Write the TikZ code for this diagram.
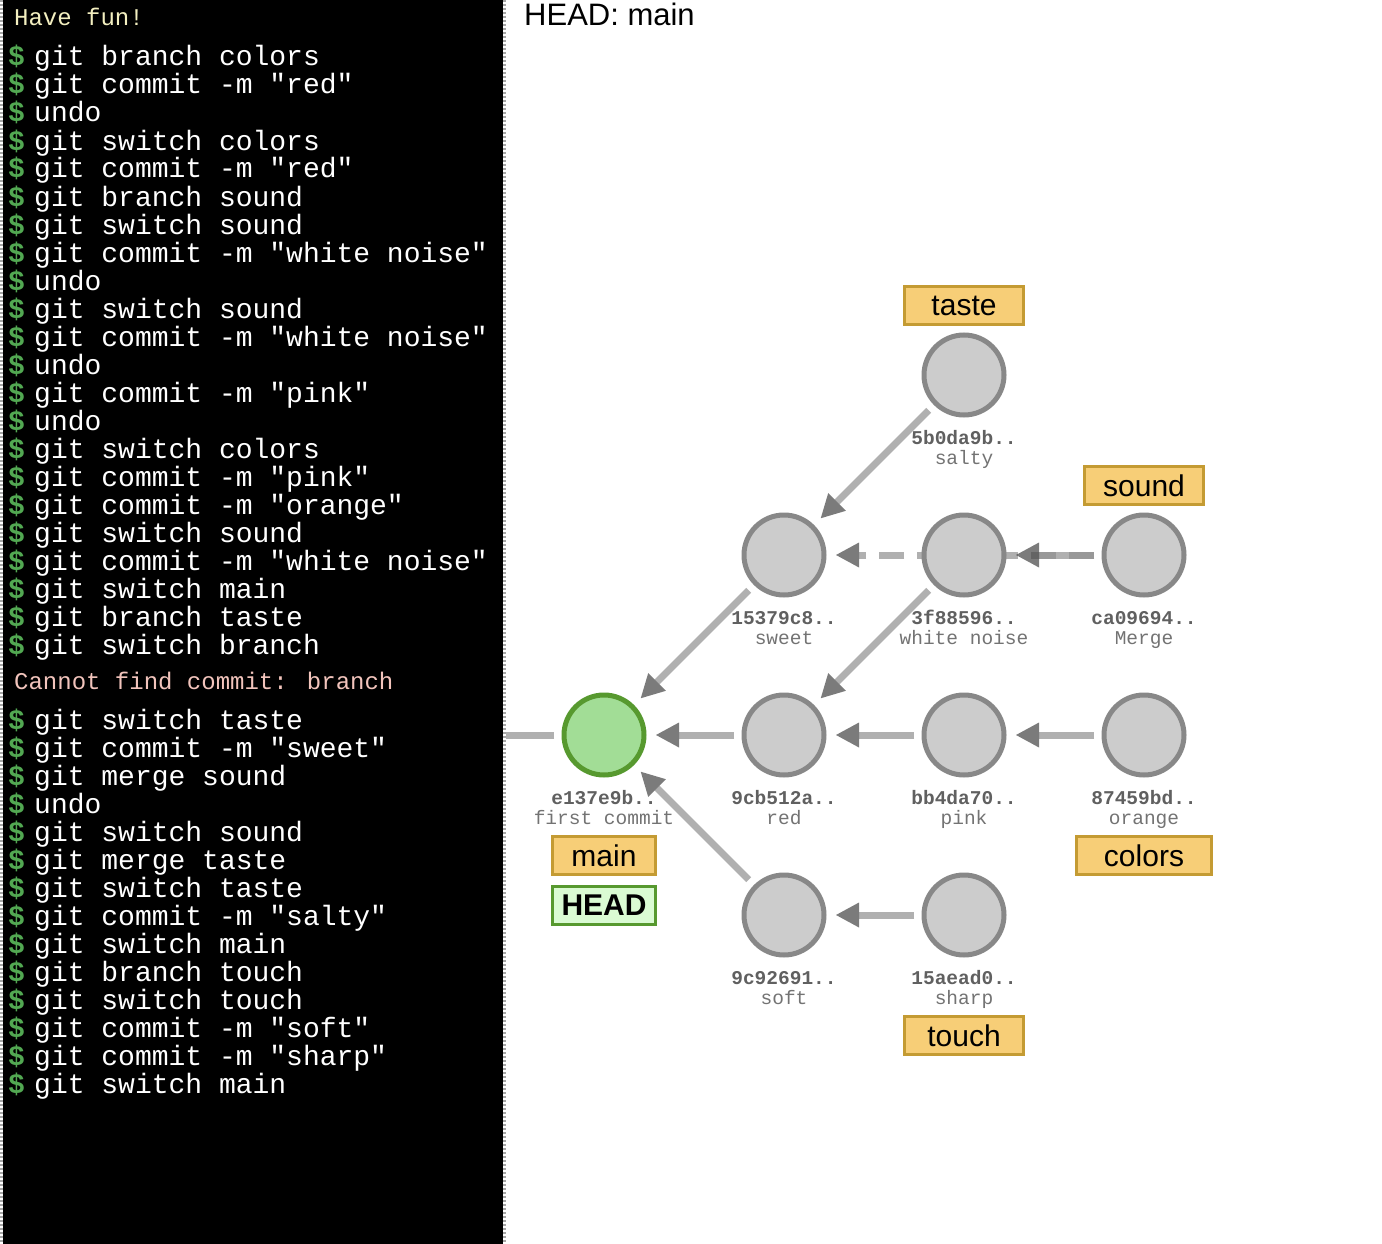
\documentclass[tikz,border=0pt]{standalone}
\usepackage{fontspec}
\setmainfont{Liberation Sans}
\newfontfamily\termfont{Liberation Mono}
\usetikzlibrary{arrows.meta,backgrounds}

\definecolor{commitfill}{HTML}{CCCCCC}
\definecolor{commitline}{HTML}{888888}
\definecolor{firstfill}{HTML}{A2DD96}
\definecolor{firstline}{HTML}{57992F}
\definecolor{tagfill}{HTML}{F7CE77}
\definecolor{tagline}{HTML}{C49B33}
\definecolor{headfill}{HTML}{DAFBD3}
\definecolor{edgegray}{HTML}{8F8F8F}
\definecolor{tipgray}{HTML}{444444}
\definecolor{hashgray}{HTML}{606060}
\definecolor{msggray}{HTML}{737373}
\definecolor{promptgreen}{HTML}{52A852}
\definecolor{funyellow}{HTML}{F3EFC0}
\definecolor{errpink}{HTML}{F2C4BC}

\tikzset{
  commit/.style={circle, draw=commitline, fill=commitfill, line width=5pt, minimum size=80pt, inner sep=0pt},
  firstcommit/.style={commit, draw=firstline, fill=firstfill},
  hash/.style={anchor=base, inner sep=0pt, text=hashgray, font=\termfont\bfseries\fontsize{19.5}{20}\selectfont},
  msg/.style={anchor=base, inner sep=0pt, text=msggray, font=\termfont\fontsize{19.5}{20}\selectfont},
  tag/.style={draw=tagline, fill=tagfill, line width=3pt, minimum width=119pt, minimum height=38pt, inner sep=0pt, font=\fontsize{30}{30}\selectfont},
  headtag/.style={tag, draw=firstline, fill=headfill, font=\bfseries\fontsize{30}{30}\selectfont},
  parent/.style={draw=edgegray, line width=7pt, opacity=0.7, shorten <=7.5pt, shorten >=9.5pt,
    -{Triangle[length=23pt, width=25pt, line width=0pt, color=tipgray]}},
  mergeparent/.style={parent, dash pattern=on 25pt off 13pt},
  rootline/.style={draw=edgegray, line width=7pt, opacity=0.7, shorten <=7.5pt},
  termline/.style={anchor=base west, inner sep=0pt, text=white, font=\termfont\fontsize{28}{28}\selectfont},
  prompt/.style={anchor=base west, inner sep=0pt, text=promptgreen, font=\termfont\bfseries\fontsize{28}{28}\selectfont},
  termnote/.style={anchor=base west, inner sep=0pt, font=\termfont\fontsize{24}{24}\selectfont}
}

\begin{document}
\begin{tikzpicture}[x=1pt, y=-1pt]
\useasboundingbox (0,0) rectangle (1382,1244);

% commits
\draw (604,735) node[firstcommit](first){};
\foreach \name/\x/\y in {red/784/735, pink/964/735, orange/1144/735,
    sweet/784/555, whitenoise/964/555, merge/1144/555,
    salty/964/375, soft/784/915, sharp/964/915}
  \draw (\x,\y) node[commit](\name){};

% hashes and messages
\foreach \name/\x/\y/\hash/\msg in {first/604/735/e137e9b../first commit,
    red/784/735/9cb512a../red, pink/964/735/bb4da70../pink,
    orange/1144/735/87459bd../orange, sweet/784/555/15379c8../sweet,
    whitenoise/964/555/3f88596../white noise, merge/1144/555/ca09694../Merge,
    salty/964/375/5b0da9b../salty, soft/784/915/9c92691../soft,
    sharp/964/915/15aead0../sharp}
{
  \node[hash] (\name-hash) at (\x,{\y+69}) {\hash};
  \node[msg] (\name-msg) at (\x,{\y+89}) {\msg};
}

% branches
\node[tag] (taste) at (964,305.5) {taste};
\node[tag] (sound) at (1144,485.5) {sound};
\node[tag, minimum width=103pt] (main) at (604,855.5) {main};
\node[headtag, minimum width=103pt] (head) at (604,905.5) {HEAD};
\node[tag, minimum width=135pt] (colors) at (1144,855.5) {colors};
\node[tag] (touch) at (964,1035.5) {touch};

\node[anchor=base west, inner sep=0pt, font=\fontsize{31}{31}\selectfont] (headinfo) at (524,26) {HEAD: main};

\coordinate (root) at (505,735);

% edges go behind the commits
\begin{scope}[on background layer]
  \fill[white] (0,0) rectangle (1382,1244);
  \draw[rootline] (first) -- (root);
  \draw[parent] (red) -- (first);
  \draw[parent] (pink) -- (red);
  \draw[parent] (orange) -- (pink);
  \draw[parent] (sweet) -- (first);
  \draw[parent] (soft) -- (first);
  \draw[parent] (sharp) -- (soft);
  \draw[parent] (whitenoise) -- (red);
  \draw[mergeparent] (merge) -- (sweet);
  \draw[parent] (merge) -- (whitenoise);
  \draw[parent] (salty) -- (sweet);
\end{scope}

% terminal
\fill[black] (3,0) rectangle (503,1244);
\draw[white, line width=3pt] (1.5,0) -- (1.5,1244) (504.5,0) -- (504.5,1244);
\draw[gray!70, line width=3pt, dash pattern=on 2pt off 2pt] (1.5,0) -- (1.5,1244) (504.5,0) -- (504.5,1244);

\node[termnote, text=funyellow] (fun) at (14,26) {Have fun!};
\foreach \cmd [count=\i from 0] in {git branch colors, git commit -m "red", undo,
    git switch colors, git commit -m "red", git branch sound, git switch sound,
    git commit -m "white noise", undo, git switch sound, git commit -m "white noise",
    undo, git commit -m "pink", undo, git switch colors, git commit -m "pink",
    git commit -m "orange", git switch sound, git commit -m "white noise",
    git switch main, git branch taste, git switch branch}
{
  \node[prompt] (dollar\i) at (8,{66+28*\i}) {\$};
  \node[termline] (cmd\i) at (34,{66+28*\i}) {\cmd};
}
\node[termnote, text=errpink] (error) at (14,689) {Cannot find commit: branch};
\foreach \cmd [count=\i from 0] in {git switch taste, git commit -m "sweet",
    git merge sound, undo, git switch sound, git merge taste, git switch taste,
    git commit -m "salty", git switch main, git branch touch, git switch touch,
    git commit -m "soft", git commit -m "sharp", git switch main}
{
  \node[prompt] (dollarb\i) at (8,{729+28*\i}) {\$};
  \node[termline] (cmdb\i) at (34,{729+28*\i}) {\cmd};
}
\end{tikzpicture}
\end{document}
